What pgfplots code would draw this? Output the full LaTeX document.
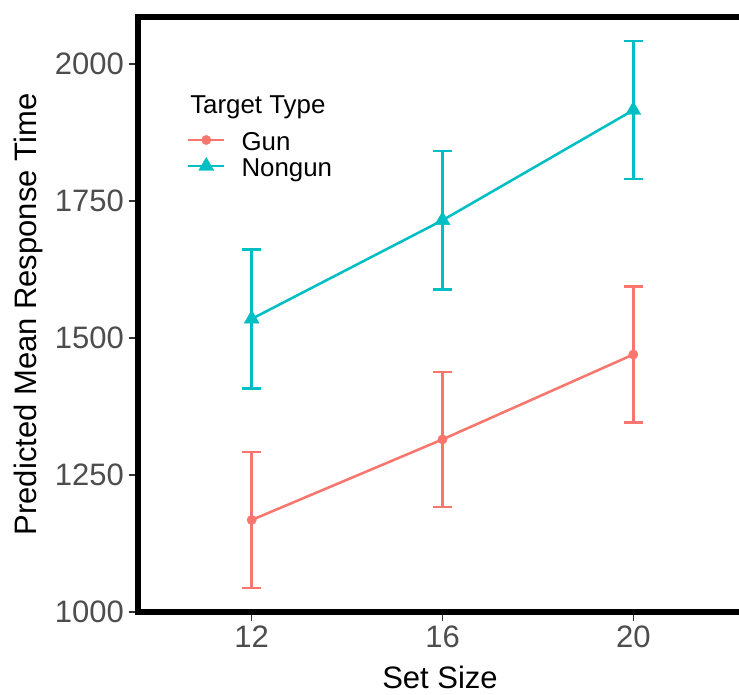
\documentclass[border=0pt]{standalone}
\usepackage{fontspec}
\setmainfont{Liberation Sans}
\usepackage{pgfplots}
\usepackage{pgfplotstable}
\pgfplotsset{compat=1.18}

\definecolor{gunc}{HTML}{F8766D}
\definecolor{nongunc}{HTML}{00BFC4}
\definecolor{ticklab}{HTML}{4D4D4D}
\definecolor{tickc}{HTML}{333333}

% predicted mean response time with error bar half-widths
\pgfplotstableread{
x  y    e
12 1168 124
16 1315 123
20 1470 124
}\gundata
\pgfplotstableread{
x  y    e
12 1535 127
16 1715 126
20 1916 126
}\nongundata

\newcommand{\ticksize}{\fontsize{23.25}{23.25}\selectfont}
\newcommand{\legsize}{\fontsize{19.4}{19.4}\selectfont}

\begin{document}
\begin{tikzpicture}
\begin{axis}[
  at={(103.5pt,61.5pt)}, anchor=south west,
  scale only axis, width=450.75pt, height=446.25pt,
  xmin=9.616, xmax=22.216, ymin=1000, ymax=2086,
  clip=false,
  axis line style={draw=none},
  xtick={12,16,20}, ytick={1000,1250,1500,1750,2000},
  xtick pos=left, ytick pos=left,
  tick align=outside, major tick length=7pt,
  tick style={tickc, line width=1.1pt},
  /pgf/number format/assume math mode=true,
  /pgf/number format/1000 sep={},
  ticklabel style={font=\ticksize, text=ticklab},
  xlabel={Set Size},
  ylabel={Predicted Mean Response Time},
  xlabel style={at={(rel axis cs:0.5025,-0.1285)}, anchor=base, inner sep=0pt, font=\ticksize},
  ylabel style={at={(rel axis cs:-0.1686,0.5)}, anchor=base, font=\ticksize},
  legend style={draw=none, fill=none, at={(rel axis cs:0.0815,0.8059)}, anchor=north west,
    inner sep=0pt, outer sep=0pt, row sep=0pt, column sep=12pt, font=\legsize,
    nodes={inner sep=0pt, text height=13.75pt, text depth=5pt}},
  legend cell align=left,
  legend image code/.code={\draw[yshift=3.75pt, mark repeat=2,mark phase=2] plot coordinates {(0pt,0pt) (13.5pt,0pt) (27pt,0pt)};},
]
\addplot[gunc, line width=1.9pt, mark=*, mark size=3.5pt,
  mark options={solid, fill=gunc, draw=gunc, line width=0.3pt},
  error bars/.cd, y dir=both, y explicit,
  error bar style={line width=1.9pt, gunc},
  error mark options={rotate=90, mark size=7pt, line width=1.9pt, gunc}]
  table[x=x, y=y, y error=e] {\gundata};
\addlegendentry{Gun}
\addplot[nongunc, line width=1.9pt, mark=triangle*, mark size=6.5pt,
  mark options={solid, fill=nongunc, draw=nongunc, line width=0.3pt},
  error bars/.cd, y dir=both, y explicit,
  error bar style={line width=1.9pt, nongunc},
  error mark options={rotate=90, mark size=7pt, line width=1.9pt, nongunc}]
  table[x=x, y=y, y error=e] {\nongundata};
\addlegendentry{Nongun}
% legend title
\node[anchor=base west, font=\legsize, inner sep=0pt] at (rel axis cs:0.0865,0.838) {Target Type};
% panel border on the left, top and bottom
\draw[line width=4.8pt, line join=miter, line cap=butt]
  (rel axis cs:1.05,0) -- (rel axis cs:0,0) -- (rel axis cs:0,1) -- (rel axis cs:1.05,1);
\end{axis}
\pgfresetboundingbox
\useasboundingbox (0pt,0pt) rectangle (554.25pt,520.5pt);
\end{tikzpicture}
\end{document}
